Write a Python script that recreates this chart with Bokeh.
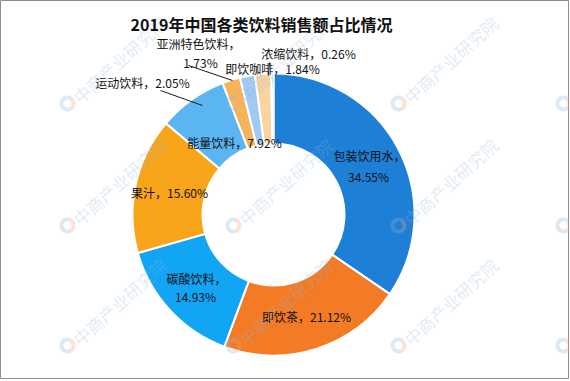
import numpy as np
from bokeh.plotting import figure
from bokeh.models import Range1d, ColumnDataSource
from bokeh.core.properties import value
from bokeh.embed import file_html
from bokeh.resources import INLINE

# ---------------- data ----------------
title_text = "2019年中国各类饮料销售额占比情况"
categories = ["包装饮用水", "即饮茶", "碳酸饮料", "果汁", "能量饮料",
              "运动饮料", "亚洲特色饮料", "即饮咖啡", "浓缩饮料"]
shares = [34.55, 21.12, 14.93, 15.60, 7.92, 2.05, 1.73, 1.84, 0.26]
colors = ["#1E7FD6", "#F47B25", "#12A5F4", "#F9A51B", "#5BB5F0",
          "#F6B35A", "#9FCBF2", "#F9D49E", "#2F86D8"]

# ---------------- layout (reference pixel coords) ----------------
CX, CY = 273, 214          # donut centre in reference pixels
R_OUT, R_IN = 141, 71
PAGE_MARGIN = 0
W, H = 569, 379

def dx(px):
    return px - CX

def dy(py):
    return CY - py

# label line anchors per category (centre of each text line)
label_pos = {
    "包装饮用水": [(369, 155), (368, 176)],
    "即饮茶": [(306, 316)],
    "碳酸饮料": [(196, 278), (195, 296)],
    "果汁": [(169, 192)],
    "能量饮料": [(234, 142)],
    "运动饮料": [(142, 82)],
    "亚洲特色饮料": [(198, 43), (200, 62)],
    "即饮咖啡": [(272, 68)],
    "浓缩饮料": [(308, 53)],
}
leaders = {
    "运动饮料": ((160, 90), (202, 105)),
    "亚洲特色饮料": ((188, 65), (232, 80)),
    "浓缩饮料": ((269, 62), (268, 75)),
}

p = figure(width=W, height=H, output_backend="svg", toolbar_location=None,
           x_range=Range1d(PAGE_MARGIN - CX, PAGE_MARGIN + W - CX),
           y_range=Range1d(CY - (PAGE_MARGIN + H), CY - PAGE_MARGIN),
           min_border=0, background_fill_color="white",
           border_fill_color="white")
p.axis.visible = False
p.grid.visible = False
p.outline_line_color = "#8C8C8C"
p.outline_line_width = 1

# ---------------- donut ----------------
vals = np.array(shares)
cum = np.concatenate([[0], np.cumsum(vals)])
start = np.pi / 2 - 2 * np.pi * cum[:-1] / cum[-1]
end = np.pi / 2 - 2 * np.pi * cum[1:] / cum[-1]
src = ColumnDataSource(dict(cat=categories, start=start, end=end, color=colors))
p.annular_wedge(x=0, y=0, inner_radius=R_IN, outer_radius=R_OUT,
                start_angle="start", end_angle="end", direction="clock",
                fill_color="color", line_color="white", line_width=2,
                source=src)

# ---------------- leader lines ----------------
for cat, ((x0, y0), (x1, y1)) in leaders.items():
    p.line([dx(x0), dx(x1)], [dy(y0), dy(y1)], line_color="#1a1a1a", line_width=1)

# ---------------- labels ----------------
lx, ly, lt = [], [], []
for cat, sh in zip(categories, shares):
    pos = label_pos[cat]
    if len(pos) == 1:
        lines = [f"{cat}，{sh:.2f}%"]
    else:
        lines = [f"{cat}，", f"{sh:.2f}%"]
    for (x, y), t in zip(pos, lines):
        lx.append(dx(x)); ly.append(dy(y)); lt.append(t)
p.text(x=lx, y=ly, text=lt, text_align="center", text_baseline="middle",
       text_font=value("Noto Sans CJK SC"), text_font_size="12px",
       text_color="#111111")

# ---------------- watermark ----------------
wx, wy = [], []
for gx in [67, 233, 398]:
    for gy in [103, 225, 345]:
        wx.append(dx(gx + 8)); wy.append(dy(gy - 4))
p.text(x=wx, y=wy, text=["中商产业研究院"] * len(wx), angle=np.deg2rad(42),
       text_align="left", text_baseline="middle",
       text_font=value("Noto Sans CJK SC"), text_font_size="17px",
       text_color="#8DB6DE", text_alpha=0.28)
cx_, cy_ = [], []
for gx in [67, 233, 398, 563]:
    for gy in [103, 225, 345]:
        cx_.append(dx(gx)); cy_.append(dy(gy))
p.annular_wedge(x=cx_, y=cy_, inner_radius=4, outer_radius=8,
                start_angle=np.deg2rad(60), end_angle=np.deg2rad(300),
                fill_color="#8DB6DE", fill_alpha=0.3, line_color=None)
p.annular_wedge(x=cx_, y=cy_, inner_radius=4, outer_radius=8,
                start_angle=np.deg2rad(-60), end_angle=np.deg2rad(60),
                fill_color="#F2A27A", fill_alpha=0.3, line_color=None)

# ---------------- title ----------------
p.text(x=[dx(261)], y=[dy(23)], text=[title_text], text_align="center",
       text_baseline="middle", text_font=value("Noto Sans CJK SC"),
       text_font_size="16px", text_font_style="bold", text_color="#111111")

open("out.html", "w").write(file_html(p, INLINE))
